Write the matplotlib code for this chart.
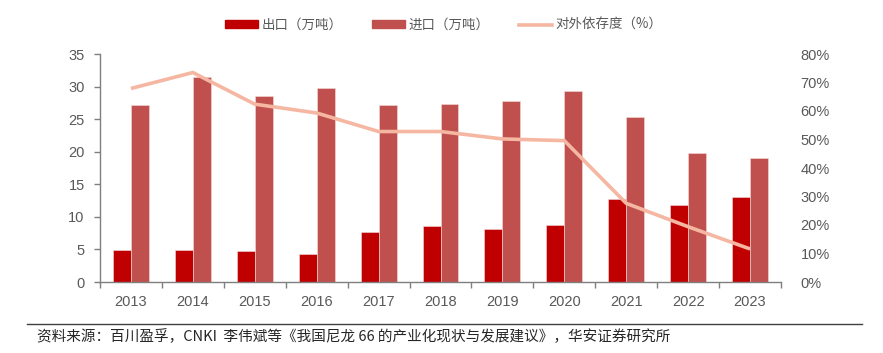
import matplotlib
matplotlib.use("Agg")
import matplotlib.pyplot as plt
from matplotlib.lines import Line2D
from matplotlib.ticker import FuncFormatter, MultipleLocator, FixedLocator
import numpy as np

years = ["2013", "2014", "2015", "2016", "2017", "2018", "2019", "2020", "2021", "2022", "2023"]
exports = [4.9, 4.9, 4.7, 4.3, 7.6, 8.6, 8.15, 8.8, 12.7, 11.8, 13.0]
imports = [27.1, 31.5, 28.6, 29.8, 27.1, 27.3, 27.8, 29.3, 25.4, 19.8, 19.1]
dependence = [67.9, 73.5, 62.4, 59.3, 52.8, 52.8, 50.2, 49.6, 27.6, 19.4, 11.6]

legend_labels = ["出口（万吨）", "进口（万吨）", "对外依存度（%）"]
source_text = "资料来源：百川盈孚，CNKI  李伟斌等《我国尼龙 66 的产业化现状与发展建议》，华安证券研究所"

CJK = ["Noto Sans CJK SC", "DejaVu Sans"]
LAT = ["Liberation Sans", "DejaVu Sans"]
gray = "#595959"
axgray = "#7f7f7f"

fig = plt.figure(figsize=(8.83, 3.53), dpi=100)
W, H = 883, 353
ax = fig.add_axes([100 / W, 1 - 282 / H, 681 / W, 228 / H])
ax2 = ax.twinx()

x = np.arange(len(years))
bw = 0.29
ax.bar(x - bw / 2, exports, width=bw, color="#C00000", edgecolor="#F2DCDB", linewidth=0.4, zorder=2)
ax.bar(x + bw / 2, imports, width=bw, color="#C0504D", edgecolor="#F2DCDB", linewidth=0.4, zorder=2)
ax2.plot(x, dependence, color="#F5B7A2", linewidth=2.6, solid_capstyle="butt", zorder=3)

ax.set_xlim(-0.5, len(years) - 0.5)
ax.set_ylim(0, 35)
ax.yaxis.set_major_locator(MultipleLocator(5))
ax2.set_ylim(0, 80)
ax2.yaxis.set_major_locator(MultipleLocator(10))
ax2.yaxis.set_major_formatter(FuncFormatter(lambda v, p: f"{int(round(v))}%"))

ax.set_xticks(x)
ax.set_xticklabels(years)
ax.xaxis.set_minor_locator(FixedLocator(np.arange(-0.5, len(years), 1.0)))
ax.tick_params(axis="x", which="major", length=0, pad=9, labelsize=10.5, labelcolor=gray)
ax.tick_params(axis="x", which="minor", length=4, width=1, color=axgray, direction="out")
ax.tick_params(axis="y", length=4, width=1, color=axgray, pad=7, labelsize=10.5, labelcolor=gray)
ax2.tick_params(axis="y", length=0, pad=14, labelsize=10.5, labelcolor=gray)

for a in (ax, ax2):
    for lab in a.get_xticklabels() + a.get_yticklabels():
        lab.set_fontfamily(LAT)
    for s in ("top", "right"):
        a.spines[s].set_visible(False)
ax2.spines["left"].set_visible(False)
ax2.spines["bottom"].set_visible(False)
ax.spines["left"].set_color(axgray)
ax.spines["bottom"].set_color(axgray)
ax.spines["left"].set_linewidth(1)
ax.spines["bottom"].set_linewidth(1)

handles = [
    plt.Rectangle((0, 0), 1, 1, color="#C00000"),
    plt.Rectangle((0, 0), 1, 1, color="#C0504D"),
    Line2D([0], [0], color="#F5B7A2", linewidth=2.6),
]
leg = fig.legend(handles, legend_labels, loc="center", bbox_to_anchor=(444 / W, 1 - 25 / H),
                 ncol=3, frameon=False, handlelength=2.4, handleheight=0.5, handletextpad=0.3,
                 columnspacing=2.2, prop={"family": CJK, "size": 9.7})
for t in leg.get_texts():
    t.set_color(gray)

fig.add_artist(Line2D([27 / W, 862 / W], [1 - 324 / H, 1 - 324 / H], transform=fig.transFigure,
                      color="#404040", linewidth=1))
fig.text(37 / W, 1 - 337 / H, source_text, ha="left", va="center", fontsize=10.5,
         family=CJK, color="#262626")

fig.savefig("out.png", dpi=100)
